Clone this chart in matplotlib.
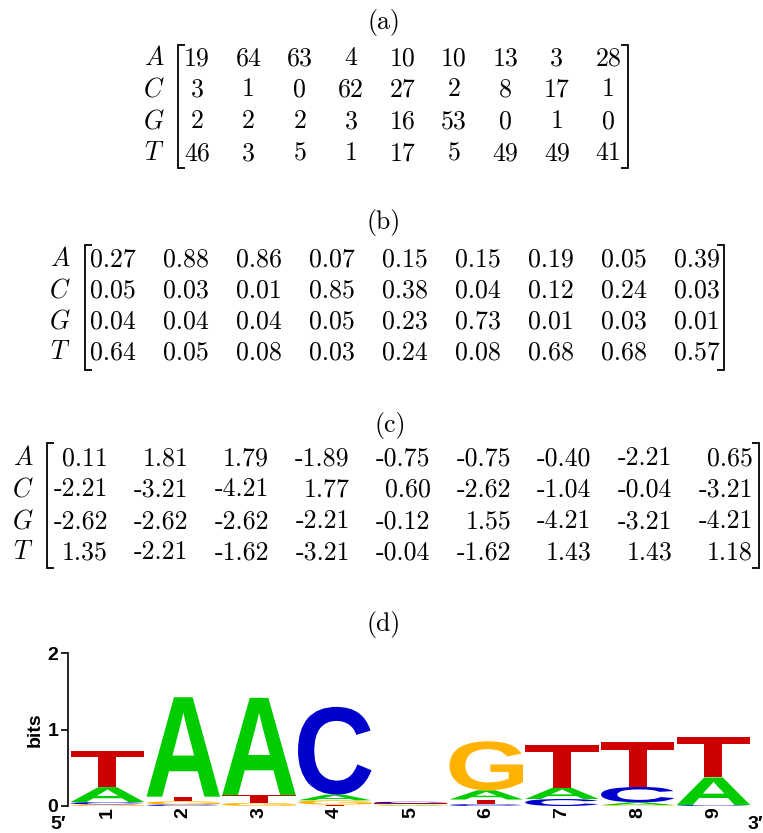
import numpy as np
import matplotlib
matplotlib.use("Agg")
import matplotlib.pyplot as plt
from matplotlib.textpath import TextPath
from matplotlib.patches import PathPatch
from matplotlib.font_manager import FontProperties
from matplotlib.transforms import Affine2D
from matplotlib.lines import Line2D

plt.rcParams["mathtext.fontset"] = "cm"

BASES = ["A", "C", "G", "T"]

# (a) raw counts per position
counts = np.array([
    [19, 64, 63, 4, 10, 10, 13, 3, 28],
    [3, 1, 0, 62, 27, 2, 8, 17, 1],
    [2, 2, 2, 3, 16, 53, 0, 1, 0],
    [46, 3, 5, 1, 17, 5, 49, 49, 41],
])

# (b) probabilities, as printed
probs = np.array([
    [0.27, 0.88, 0.86, 0.07, 0.15, 0.15, 0.19, 0.05, 0.39],
    [0.05, 0.03, 0.01, 0.85, 0.38, 0.04, 0.12, 0.24, 0.03],
    [0.04, 0.04, 0.04, 0.05, 0.23, 0.73, 0.01, 0.03, 0.01],
    [0.64, 0.05, 0.08, 0.03, 0.24, 0.08, 0.68, 0.68, 0.57],
])

# (c) log-odds scores
scores = np.array([
    [0.11, 1.81, 1.79, -1.89, -0.75, -0.75, -0.40, -2.21, 0.65],
    [-2.21, -3.21, -4.21, 1.77, 0.60, -2.62, -1.04, -0.04, -3.21],
    [-2.62, -2.62, -2.62, -2.21, -0.12, 1.55, -4.21, -3.21, -4.21],
    [1.35, -2.21, -1.62, -3.21, -0.04, -1.62, 1.43, 1.43, 1.18],
])

LOGO_COLORS = {"A": "#00cc00", "C": "#0000cc", "G": "#ffb300", "T": "#cc0000"}

W, H = 763, 833
FS = 18.6  # matrix font size (pt)
LOGO_FS = 14
TEXT_FONT = FontProperties(family="cmr10", size=FS)
SANS = ["Liberation Sans", "DejaVu Sans"]


def baseline(center):
    # digits are ~0.644 em tall, shift from visual centre to baseline
    return center + 0.322 * FS * 100 / 72


def draw_bracket(ax, x, y0, y1, side):
    d = 7 if side == "left" else -7
    ax.add_line(Line2D([x + d, x, x, x + d], [y0, y0, y1, y1], color="black", lw=1.3,
                       solid_joinstyle="miter", solid_capstyle="butt"))


def draw_matrix(ax, title, title_x, title_y, cells, label_x, col_x, ha, rows_y, br_left, br_right, br_top, br_bot):
    ax.text(title_x, title_y + 6.5, title, fontproperties=TEXT_FONT, ha="center", va="baseline")
    for r, base in enumerate(BASES):
        yb = baseline(rows_y[r])
        ax.text(label_x, yb, f"${base}$", fontsize=FS, ha="center", va="baseline")
        for c, s in enumerate(cells[r]):
            ax.text(col_x[c], yb, s, fontproperties=TEXT_FONT, ha=ha, va="baseline")
    draw_bracket(ax, br_left, br_top, br_bot, "left")
    draw_bracket(ax, br_right, br_top, br_bot, "right")


def draw_letter(ax, letter, x, y, w, h, color, fp):
    if h <= 0:
        return
    tp = TextPath((0, 0), letter, size=1, prop=fp)
    bb = tp.get_extents()
    t = (Affine2D().translate(-bb.x0, -bb.y0)
         .scale(w / bb.width, h / bb.height)
         .translate(x - w / 2, y))
    ax.add_patch(PathPatch(t.transform_path(tp), facecolor=color, edgecolor="none", lw=0))


def info_heights(cnt):
    n = cnt.sum(axis=0)
    p = cnt / n
    with np.errstate(divide="ignore", invalid="ignore"):
        ent = -np.nansum(np.where(p > 0, p * np.log2(p), 0.0), axis=0)
    corr = 3.0 / (2 * np.log(2) * n)
    r = np.clip(2.0 - ent - corr, 0, None)
    return p * r


fig = plt.figure(figsize=(W / 100, H / 100), dpi=100)
ax = fig.add_axes([0, 0, 1, 1])
ax.set_xlim(0, W)
ax.set_ylim(H, 0)
ax.axis("off")

ncol = counts.shape[1]
idx = np.arange(ncol)

# (a)
cells_a = [[str(v) for v in row] for row in counts]
draw_matrix(ax, "(a)", 384, 22, cells_a, 154, 197 + 51.4 * idx, "center",
            [57, 88, 120, 152], 178, 628, 45, 168)

# (b)
cells_b = [[f"{v:.2f}" for v in row] for row in probs]
draw_matrix(ax, "(b)", 384, 222, cells_b, 60, 113 + 73.0 * idx, "center",
            [258, 289, 320, 351], 85, 724, 245, 370)

# (c)
cells_c = [[f"{v:.2f}" for v in row] for row in scores]
draw_matrix(ax, "(c)", 390, 425, cells_c, 23, 108 + 80.6 * idx, "right",
            [457, 488, 520, 551], 47, 759, 443, 568)

# (d) sequence logo
ax.text(384, 625 + 6.5, "(d)", fontproperties=TEXT_FONT, ha="center", va="baseline")

px_left, px_right, px_top, px_bot = 68, 755, 653, 806
col_px0, col_step = 107.5, 75.75
xmin = 1 - (col_px0 - px_left) / col_step
xmax = xmin + (px_right - px_left) / col_step
lax = fig.add_axes([px_left / W, (H - px_bot) / H, (px_right - px_left) / W, (px_bot - px_top) / H])
lax.set_xlim(xmin, xmax)
lax.set_ylim(0, 2)

letter_fp = FontProperties(family="Liberation Sans", weight="bold")
heights = info_heights(counts)
positions = np.arange(1, ncol + 1)
for j, pos in enumerate(positions):
    order = np.argsort(heights[:, j], kind="stable")
    y = 0.0
    for k in order:
        h = heights[k, j]
        draw_letter(lax, BASES[k], pos, y, 0.97, h, LOGO_COLORS[BASES[k]], letter_fp)
        y += h

for s in ["top", "right", "bottom"]:
    lax.spines[s].set_visible(False)
lax.spines["left"].set_linewidth(1.2)
lax.set_yticks([0, 1, 2])
lax.set_yticklabels(["0", "1", "2"], fontsize=LOGO_FS, fontweight="bold", family=SANS)
lax.tick_params(axis="y", length=5, width=1.2, pad=2)
lax.set_ylabel("bits", fontsize=LOGO_FS, fontweight="bold", family=SANS, labelpad=3)
lax.set_xticks(positions)
lax.set_xticklabels([str(p) for p in positions], rotation=90, fontsize=LOGO_FS,
                    fontweight="bold", family=SANS)
lax.tick_params(axis="x", length=0, pad=1)

ax.text(58, H, "5\u2032", fontsize=LOGO_FS, fontweight="bold", family=SANS,
        ha="center", va="bottom")
ax.text(W, H, "3\u2032", fontsize=LOGO_FS, fontweight="bold", family=SANS,
        ha="right", va="bottom")

fig.savefig("out.png", dpi=100)
